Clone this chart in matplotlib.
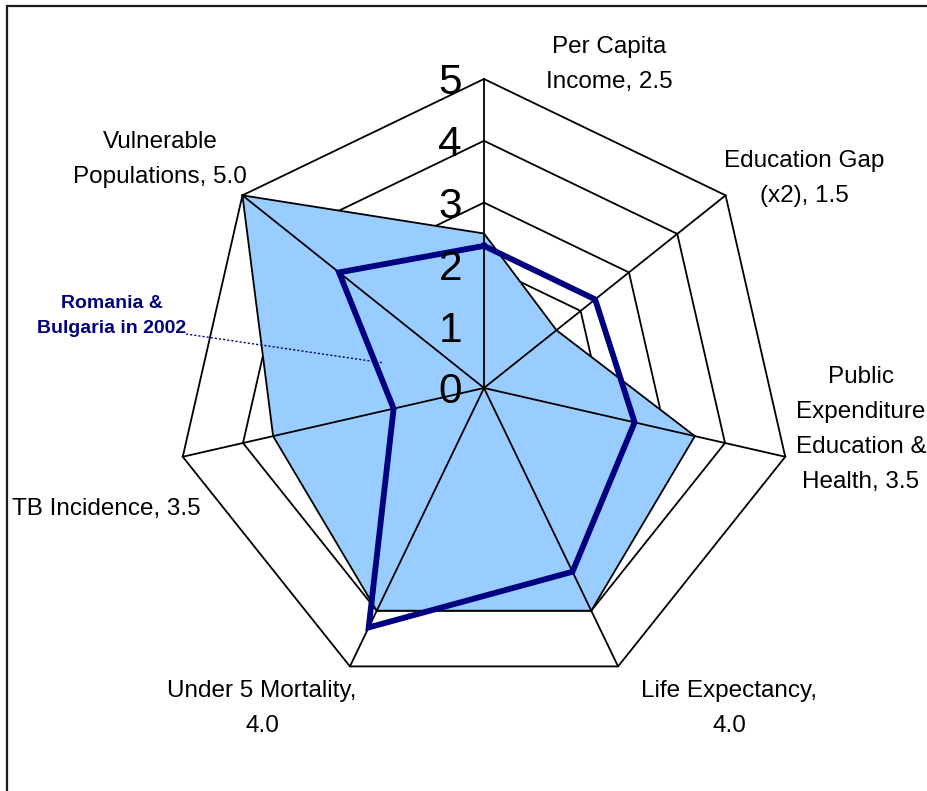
import numpy as np
import matplotlib
matplotlib.use("Agg")
import matplotlib.pyplot as plt
from matplotlib.patches import Rectangle
from matplotlib.lines import Line2D
from matplotlib.transforms import offset_copy

# spokes, clockwise from the top
categories = ["Per Capita\nIncome", "Education Gap\n(x2)",
              "Public\nExpenditure\nEducation &\nHealth", "Life Expectancy",
              "Under 5 Mortality", "TB Incidence", "Vulnerable\nPopulations"]
# how the score is attached to each spoke title
label_joins = [", ", ", ", ", ", ",\n", ",\n", ", ", ", "]
index_values = [2.5, 1.5, 3.5, 4.0, 4.0, 3.5, 5.0]
rom_bul_2002 = [2.3, 2.3, 2.5, 3.3, 4.3, 1.5, 3.0]
levels = [0, 1, 2, 3, 4, 5]

W, H = 927, 791
FONT = "Liberation Sans"

fig = plt.figure(figsize=(W / 100, H / 100), dpi=100)
cx, cy, R = 484, 388, 309
ax = fig.add_axes([(cx - R) / W, 1 - (cy + R) / H, 2 * R / W, 2 * R / H],
                  projection="polar")
ax.set_theta_zero_location("N")
ax.set_theta_direction(-1)
ax.set_ylim(0, levels[-1])
ax.set_axis_off()

n = len(categories)
theta = np.linspace(0, 2 * np.pi, n, endpoint=False)
closed = np.append(theta, theta[0])


def close(v):
    return np.append(v, v[0])


# heptagon grid rings
for lv in levels[1:]:
    ax.plot(closed, [lv] * (n + 1), color="black", lw=1.3, zorder=1, clip_on=False)

ax.fill(closed, close(index_values), facecolor="#99ccff", edgecolor="black",
        lw=1.3, zorder=2, clip_on=False)

for t in theta:
    ax.plot([t, t], [0, levels[-1]], color="black", lw=1.3, zorder=3, clip_on=False)

ax.plot(closed, close(rom_bul_2002), color="#000080", lw=4.2, zorder=4,
        solid_joinstyle="miter", clip_on=False)

# radial scale numbers beside the top spoke
num_tf = offset_copy(ax.transData, fig=fig, x=-22, y=0, units="dots")
for lv in levels:
    ax.text(0, lv, str(lv), transform=num_tf, ha="right", va="center_baseline",
            fontsize=30.5, family=FONT, zorder=5)

# spoke titles (x centre, baseline of last line) in pixels
title_pos = [(609, 88), (804, 202), (861, 488), (729, 732),
             (262, 732), (106, 515), (160, 183)]
for name, join, v, (x, y) in zip(categories, label_joins, index_values, title_pos):
    fig.text(x / W, 1 - y / H, f"{name}{join}{v:.1f}", ha="center", va="baseline",
             fontsize=17.5, family=FONT, linespacing=1.76)

fig.text(112 / W, 1 - 333 / H, "Romania &\nBulgaria in 2002", ha="center",
         va="baseline", fontsize=14, family=FONT, weight="bold", color="#000080",
         linespacing=1.62)
fig.add_artist(Line2D([186 / W, 384 / W], [1 - 334 / H, 1 - 363 / H],
                      color="#000080", lw=1.0, dashes=(1.5, 1.5)))

# outer chart frame
fig.add_artist(Rectangle((7 / W, -0.5), 2, 1.5 - 5.5 / H, fill=False,
                         ec="#1a1a1a", lw=1.6, transform=fig.transFigure))

fig.savefig("out.png", dpi=100)
